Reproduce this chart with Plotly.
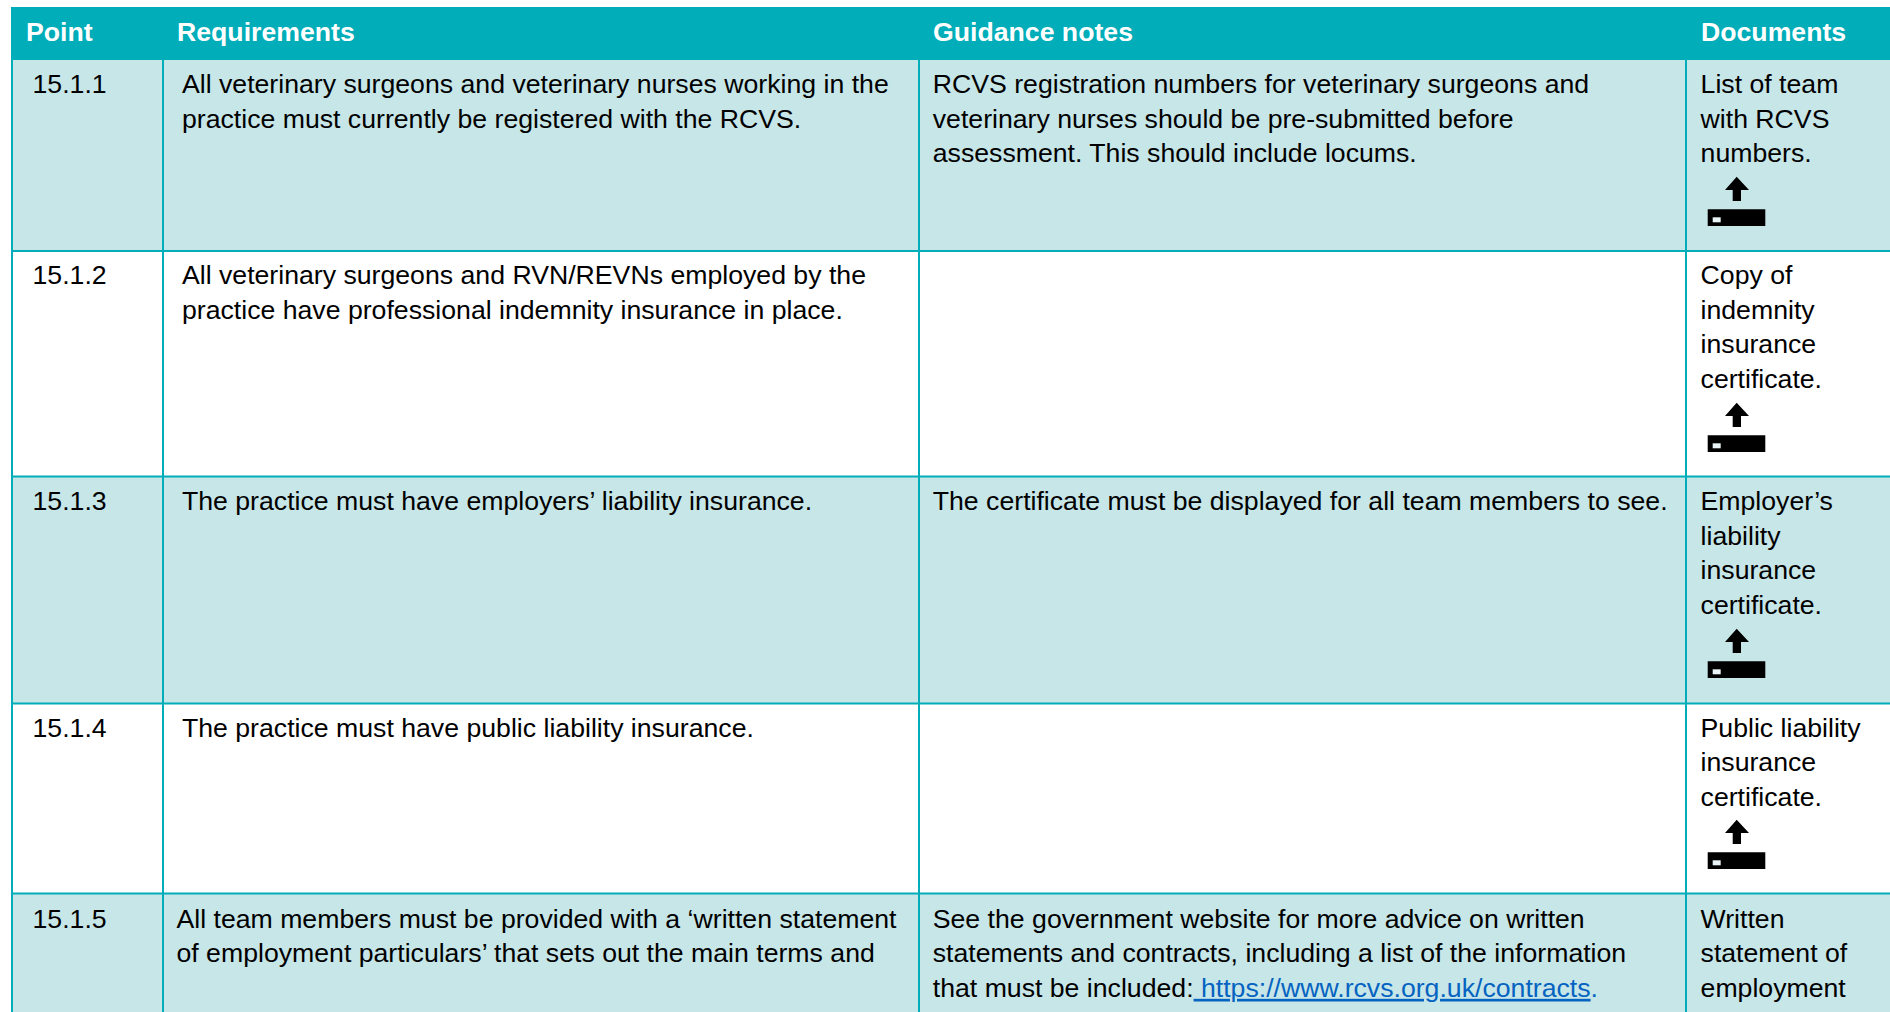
import plotly.graph_objects as go

W, H = 1890, 1012

# ---------- content ----------
headers = ["Point", "Requirements", "Guidance notes", "Documents"]
points = ["15.1.1", "15.1.2", "15.1.3", "15.1.4", "15.1.5"]
requirements = [
    ["All veterinary surgeons and veterinary nurses working in the",
     "practice must currently be registered with the RCVS."],
    ["All veterinary surgeons and RVN/REVNs employed by the",
     "practice have professional indemnity insurance in place."],
    ["The practice must have employers\u2019 liability insurance."],
    ["The practice must have public liability insurance."],
    ["All team members must be provided with a \u2018written statement",
     "of employment particulars\u2019 that sets out the main terms and"],
]
LINK = '<span style="color:#0563C1"><u> https://www.rcvs.org.uk/contracts</u>.</span>'
guidance = [
    ["RCVS registration numbers for veterinary surgeons and",
     "veterinary nurses should be pre-submitted before",
     "assessment. This should include locums."],
    [""],
    ["The certificate must be displayed for all team members to see."],
    [""],
    ["See the government website for more advice on written",
     "statements and contracts, including a list of the information",
     "that must be included:" + LINK],
]
documents = [
    ["List of team", "with RCVS", "numbers."],
    ["Copy of", "indemnity", "insurance", "certificate."],
    ["Employer\u2019s", "liability", "insurance", "certificate."],
    ["Public liability", "insurance", "certificate."],
    ["Written", "statement of", "employment"],
]

# ---------- layout ----------
TEAL = "#00ADB9"
TINT = "#C7E6E8"
FONT = "Liberation Sans"
FS = 26.67
CELL_PAD = 8
TEXT_DROP = 39  # distance from a table's top to the middle of its first text line

left, right = 11, W
col_edges = [11, 162, 918, 1685]
row_edges = [7, 60, 250.5, 476, 703, 893, 1012]
first_line_mid = [84, 275, 501, 727.5, 918.5]
header_text_x = [26, 176.5, 933, 1700.5]
header_mid = 32.5
body_text_x = [
    [32.5, 182, 933, 1701],
    [32.5, 182, 933, 1701],
    [32.5, 182, 933, 1701],
    [32.5, 182, 933, 1701],
    [32.5, 176.5, 933, 1701],
]
row_fills = [TINT, "white", TINT, "white", TINT]
# bottom edge of the upload icon's bar, by row
icon_bottom = [226, 452, 678, 869]


def fx(v):
    return v / W


def fy(v):
    return 1 - v / H


def multi(lines):
    # a trailing empty line keeps every cell on the same text baseline
    return "<br>".join(lines + ["&nbsp;"]) if lines != [""] else ""


def row_table(values, xs, top, bottom):
    x0 = xs[0] - CELL_PAD
    edges = [x - CELL_PAD for x in xs] + [W]
    widths = [edges[i + 1] - edges[i] for i in range(len(xs))]
    return go.Table(
        domain=dict(x=[fx(x0), 1], y=[fy(bottom), fy(top)]),
        columnwidth=widths,
        header=dict(values=[], height=0, line=dict(width=0), fill=dict(color="rgba(0,0,0,0)")),
        cells=dict(
            values=[[t] for t in values],
            height=bottom - top,
            align="left",
            fill=dict(color="rgba(0,0,0,0)"),
            line=dict(width=0, color="rgba(0,0,0,0)"),
            font=dict(family=FONT, size=FS, color="black"),
        ),
    )


fig = go.Figure()

for i, p in enumerate(points):
    vals = [multi([p]), multi(requirements[i]), multi(guidance[i]), multi(documents[i])]
    fig.add_trace(row_table(vals, body_text_x[i], first_line_mid[i] - TEXT_DROP, row_edges[i + 2]))

annotations = [
    dict(text=f"<b>{h}</b>", x=fx(x), y=fy(header_mid), xref="paper", yref="paper",
         xanchor="left", yanchor="middle", showarrow=False, borderpad=0, borderwidth=0,
         font=dict(family=FONT, size=FS, color="white"))
    for h, x in zip(headers, header_text_x)
]

shapes = []


def rect(x0, y0, x1, y1, color, layer="below"):
    shapes.append(dict(type="rect", xref="paper", yref="paper",
                       x0=fx(x0), x1=fx(x1), y0=fy(y0), y1=fy(y1),
                       fillcolor=color, line=dict(width=0), layer=layer))


# header band and row bands
rect(left, row_edges[0], right, row_edges[1], TEAL)
for i, c in enumerate(row_fills):
    rect(left, row_edges[i + 1], right, row_edges[i + 2], c)
# vertical rules
for x in col_edges:
    rect(x, row_edges[1], x + 2, row_edges[-1], TEAL)
# horizontal rules
for y in row_edges[2:-1]:
    rect(left, y - 0.5, right, y + 1.5, TEAL)


def upload_icon(bottom):
    dy = bottom - 226
    pts = [(1736.7, 176.7), (1749, 190), (1741, 190), (1741, 201),
           (1732.7, 201), (1732.7, 190), (1725, 190)]
    path = "M " + " L ".join(f"{fx(x)},{fy(y + dy)}" for x, y in pts) + " Z"
    shapes.append(dict(type="path", xref="paper", yref="paper", path=path,
                       fillcolor="black", line=dict(width=0), layer="above"))
    rect(1707.7, 209.3 + dy, 1765.3, 226 + dy, "black", layer="above")
    rect(1712.7, 217.3 + dy, 1720.7, 222.3 + dy, "#E8F4F5", layer="above")


for b in icon_bottom:
    upload_icon(b)

fig.update_layout(
    width=W, height=H,
    margin=dict(l=0, r=0, t=0, b=0),
    paper_bgcolor="white",
    plot_bgcolor="white",
    showlegend=False,
    shapes=shapes,
    annotations=annotations,
)

fig.write_html(
    "out.html",
    config=dict(displayModeBar=False),
    post_script="document.body.style.margin='0';document.body.style.overflow='hidden';",
)
